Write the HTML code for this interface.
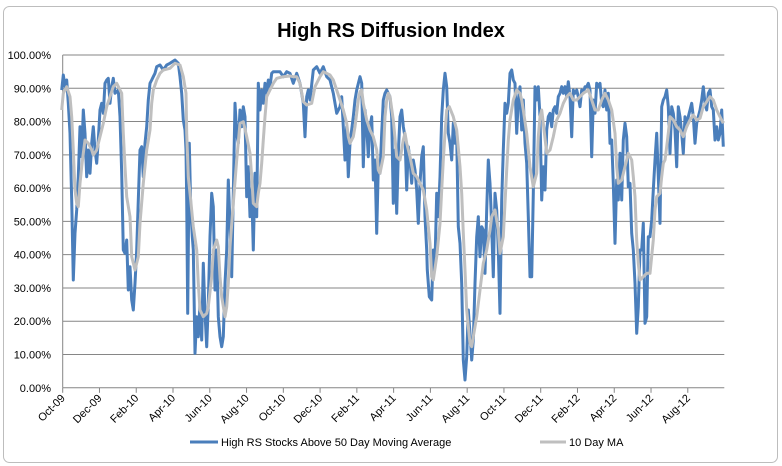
<!DOCTYPE html>
<html><head><meta charset="utf-8"><style>
html,body{margin:0;padding:0;background:#fff;}
svg{display:block;font-family:"Liberation Sans",sans-serif;}
</style></head><body>
<svg id="s" width="782" height="466" viewBox="0 0 782 466" xmlns="http://www.w3.org/2000/svg">
<rect x="0" y="0" width="782" height="466" fill="#fff"/>
<rect x="3.5" y="6.5" width="774" height="456" rx="6" fill="#fff" stroke="#bdbdbd"/>
<text x="391" y="37" text-anchor="middle" font-size="20" font-weight="bold" fill="#000">High RS Diffusion Index</text>
<g id="grid" stroke="#868686" stroke-width="1"></g>
<g id="ylab" font-size="11" fill="#000" text-anchor="end"></g>
<g id="xlab" font-size="11" fill="#000" text-anchor="end"></g>
<polyline id="blue" fill="none" stroke="#4a7ebb" stroke-width="3" stroke-linejoin="round"/>
<polyline id="gray" fill="none" stroke="#bfbfbf" stroke-width="3" stroke-linejoin="round"/>
<line x1="190" y1="442" x2="218" y2="442" stroke="#4a7ebb" stroke-width="3"/>
<text x="221" y="446" font-size="11" fill="#000">High RS Stocks Above 50 Day Moving Average</text>
<line x1="540" y1="442" x2="566" y2="442" stroke="#bfbfbf" stroke-width="3"/>
<text x="569" y="446" font-size="11" fill="#000">10 Day MA</text>
</svg>
<script>
var NS="http://www.w3.org/2000/svg";
function el(t,a,p,txt){var e=document.createElementNS(NS,t);for(var k in a)e.setAttribute(k,a[k]);if(txt)e.textContent=txt;document.getElementById(p).appendChild(e);}
var L=62.7,R=724.3,B=387.8,T=55;
for(var i=0;i<=10;i++){var y=B-(B-T)*i/10;el('line',{x1:L,y1:y,x2:R,y2:y},'grid');
el('text',{x:51,y:y+4},'ylab',(i*10)+'.00%');}
el('line',{x1:L,y1:T,x2:L,y2:B},'grid');
var labs=["Oct-09","Dec-09","Feb-10","Apr-10","Jun-10","Aug-10","Oct-10","Dec-10","Feb-11","Apr-11","Jun-11","Aug-11","Oct-11","Dec-11","Feb-12","Apr-12","Jun-12","Aug-12"];
for(var i=0;i<labs.length;i++){var x=L+i*36.77;el('line',{x1:x,y1:B,x2:x,y2:B+5},'grid');
el('text',{x:x+3,y:B+11,transform:'rotate(-45 '+(x+3)+' '+(B+11)+')'},'xlab',labs[i]);}
var b1=[5,120,10,75,15,110,20,90,25,160,30,250,35,450,40,690,45,550,50,480,55,380,60,230,65,320,70,180,75,250,80,380,85,300,90,370,95,280,100,230,105,300,110,340,115,270,120,180,125,160,130,190,135,100,140,90,145,85,150,160,155,110,160,85,165,130,175,120,180,200,185,370,190,600,195,610,200,570,205,720,210,650,215,750,220,780,225,700,230,600,235,450,240,300,245,290,250,380,255,280,260,230,265,150,270,100,275,90,280,80,285,70,290,50,300,45,310,60,320,45,330,40,345,30,355,40,360,80,365,130,370,210,375,240,378,300,380,450,383,790,388,280,392,470,397,560,400,600,405,910,410,800,415,860,420,760,425,870,430,640,435,790,440,890,445,760,450,560,455,430,460,470,465,720,470,600,475,800,480,860,485,890,490,860,495,700,500,600,505,390,510,520,515,680,520,430,525,160,530,250,535,280,540,180,545,230,550,170,555,200,560,440,565,350,570,500,575,420,580,600,585,370,590,500,595,100,600,180,605,120,610,160,615,100,620,130,625,90,630,110,635,70,640,65,660,65,670,80,680,65,690,70];
var b2=[0,70,10,100,20,70,30,100,40,160,45,260,50,140,55,120,60,150,70,60,80,50,90,70,100,50,110,80,120,90,130,130,140,190,150,170,155,140,160,230,165,330,170,230,175,380,180,280,190,200,195,150,200,120,210,80,215,100,220,350,225,180,230,230,235,320,240,230,245,200,250,390,255,330,260,550,265,350,270,370,275,250,280,150,285,130,290,120,300,140,305,200,310,460,315,300,320,490,325,310,330,200,335,180,340,230,345,260,350,420,355,290,360,330,365,400,370,330,375,360,380,420,385,520,390,400,395,320,400,290,405,500,410,600,412,660,418,740,425,750,430,600,435,640,440,430,445,500,450,380,455,200,460,120,465,70,470,110,475,250,480,280,485,330,490,220,495,280,500,260,505,530,510,580,515,700,520,930,525,990,530,920,535,780,540,850,545,930,550,870,555,700,560,560,565,500,570,620,575,530,580,540,585,670,590,480,595,330,600,400,605,530,610,680,615,430,620,480,625,600,630,790,635,450,640,300,645,160,650,190,655,160,660,70,665,60,670,90,675,100,680,250,685,150,690,110];
var b3=[5,240,10,150,15,280,20,340,25,500,30,680,35,680,40,430,45,110,50,150,55,110,60,200,65,450,70,350,75,420,80,240,85,200,90,190,95,230,100,180,105,170,110,190,115,140,120,130,125,110,130,130,135,110,140,140,145,95,150,140,155,260,160,120,165,130,170,120,175,140,180,170,185,120,190,130,195,110,200,110,205,100,210,120,215,320,220,150,225,190,230,100,235,110,240,100,245,160,250,170,255,120,260,180,265,130,270,280,275,270,280,400,285,580,290,390,295,450,300,310,305,450,310,270,315,220,320,260,325,410,330,400,335,550,340,600,345,700,350,850,355,770,360,600,365,600,370,520,375,820,380,800,385,560,390,560,395,510,400,420,405,330,410,250,415,380,420,520,425,170,430,150,435,140,440,120,445,170,450,310,455,170,460,190,465,240,470,350,475,170,480,200,485,250,490,310,495,200,500,230,505,200,510,180,515,160,520,200,525,280,530,220,535,200,540,180,545,150,550,110,555,160,560,180,565,130,570,120,575,170,580,180,585,270,590,230,595,270,600,250,605,180,610,290];
var g1=[5,180,10,130,20,110,30,140,35,200,40,300,45,420,50,460,55,470,60,400,65,350,70,310,75,270,85,280,95,300,100,315,110,300,120,260,130,220,140,170,150,140,160,110,170,100,180,120,185,130,190,250,195,350,200,440,210,500,215,620,225,660,235,620,240,520,250,400,260,300,270,240,275,160,280,120,290,90,300,70,310,60,330,55,345,40,360,45,370,80,378,130,380,250,385,380,392,450,400,530,410,600,415,700,420,780,430,800,440,790,445,770,455,680,460,600,470,570,475,590,480,680,485,740,495,800,500,770,505,700,510,590,520,460,530,330,540,220,550,215,560,260,570,310,575,380,580,460,590,470,595,430,600,400,605,340,610,270,615,200,620,140,630,120,640,100,650,85,670,80,690,78];
var g2=[10,80,20,80,30,100,40,155,50,165,65,160,75,110,90,80,100,65,120,75,130,90,140,120,150,150,160,180,170,220,175,260,180,280,190,260,195,230,200,190,205,150,210,125,215,120,220,160,230,210,240,240,250,260,260,300,265,360,270,370,280,320,285,200,290,150,295,130,300,140,310,210,320,320,330,330,340,270,345,250,350,280,360,320,370,370,380,380,390,400,400,420,410,480,420,580,425,680,430,690,440,620,450,520,455,420,460,330,465,250,470,180,478,170,490,200,500,240,510,350,515,430,520,550,525,660,530,780,540,880,545,890,550,860,560,800,570,720,580,640,590,600,600,540,605,500,615,480,625,540,630,610,640,560,650,360,655,270,660,210,670,150,680,120,690,130];
var g3=[5,150,10,180,20,250,30,350,40,410,50,370,55,260,60,200,65,180,70,220,80,310,90,300,100,260,110,210,120,190,130,160,140,140,150,130,160,150,170,150,180,140,190,130,205,120,215,150,225,180,235,180,245,150,255,130,265,150,275,180,285,250,290,350,295,400,305,390,315,350,325,310,335,330,340,380,345,440,350,570,355,640,360,690,370,680,380,670,390,670,400,570,405,480,410,440,420,430,425,380,430,340,435,330,440,290,445,250,450,200,460,210,470,230,480,240,490,260,500,230,510,210,520,195,530,210,540,205,550,170,560,155,570,140,580,150,590,180,600,200,610,220];
function pts(arrs){var s=[];arrs.forEach(function(p){var a=p[0],ox=p[1];for(var i=0;i<a.length;i+=2){s.push((ox+a[i]/3).toFixed(1)+','+(50+a[i+1]/3).toFixed(1));}});return s.join(' ');}
document.getElementById('blue').setAttribute('points',pts([[b1,60],[b2,290],[b3,520]]));
document.getElementById('gray').setAttribute('points',pts([[g1,60],[g2,290],[g3,520]]));
</script>
</body></html>
